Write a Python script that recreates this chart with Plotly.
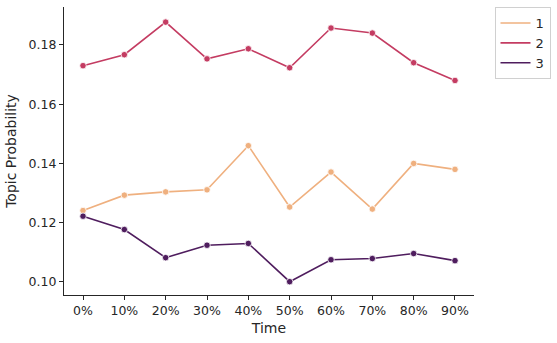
import plotly.graph_objects as go

# 數據
time_labels = ["0%", "10%", "20%", "30%", "40%", "50%", "60%", "70%", "80%", "90%"]
topic_1 = [0.1241, 0.1293, 0.1304, 0.1311, 0.1460, 0.1253, 0.1371, 0.1246, 0.1400, 0.1380]
topic_2 = [0.1730, 0.1767, 0.1877, 0.1753, 0.1787, 0.1723, 0.1857, 0.1840, 0.1740, 0.1680]
topic_3 = [0.1222, 0.1177, 0.1082, 0.1124, 0.1130, 0.1001, 0.1075, 0.1079, 0.1096, 0.1072]

series = [("1", topic_1, "#efb07f"), ("2", topic_2, "#c43c62"), ("3", topic_3, "#4f1d5e")]

fig = go.Figure()
for name, vals, color in series:
    fig.add_trace(go.Scatter(
        x=list(range(len(time_labels))), y=vals, mode="lines+markers", name=name,
        line=dict(color=color, width=1.6), showlegend=False,
        marker=dict(color=color, size=6.5, line=dict(color="white", width=0.8)),
    ))
# 圖例只顯示線條
for name, vals, color in series:
    fig.add_trace(go.Scatter(x=[None], y=[None], mode="lines", name=name,
                             line=dict(color=color, width=1.6)))

axis_common = dict(showline=True, linecolor="#262626", linewidth=1.2, ticks="outside",
                   ticklen=4, tickwidth=1.2, tickcolor="#262626", showgrid=False, zeroline=False,
                   automargin=False, tickfont=dict(size=12.5, color="#262626"))

fig.update_layout(
    width=557, height=343,
    margin=dict(l=64, r=83, t=7, b=48),
    plot_bgcolor="white", paper_bgcolor="white",
    font=dict(family="DejaVu Sans", color="#262626"),
    xaxis=dict(**axis_common, range=[-0.46, 9.46], tickmode="array",
               tickvals=list(range(len(time_labels))), ticktext=time_labels,
               title=dict(text="Time", font=dict(size=14), standoff=6)),
    yaxis=dict(**axis_common, range=[0.0956, 0.1928], tickvals=[0.10, 0.12, 0.14, 0.16, 0.18],
               tickformat=".2f", title=dict(text="Topic Probability", font=dict(size=14), standoff=8)),
    legend=dict(x=1.05, y=1.0, xanchor="left", yanchor="top", bordercolor="#d0d0d0", borderwidth=1,
                font=dict(size=13), itemwidth=30, tracegroupgap=2),
)

fig.write_html("out.html", config={"displayModeBar": False},
               post_script="document.body.style.margin='0';")
